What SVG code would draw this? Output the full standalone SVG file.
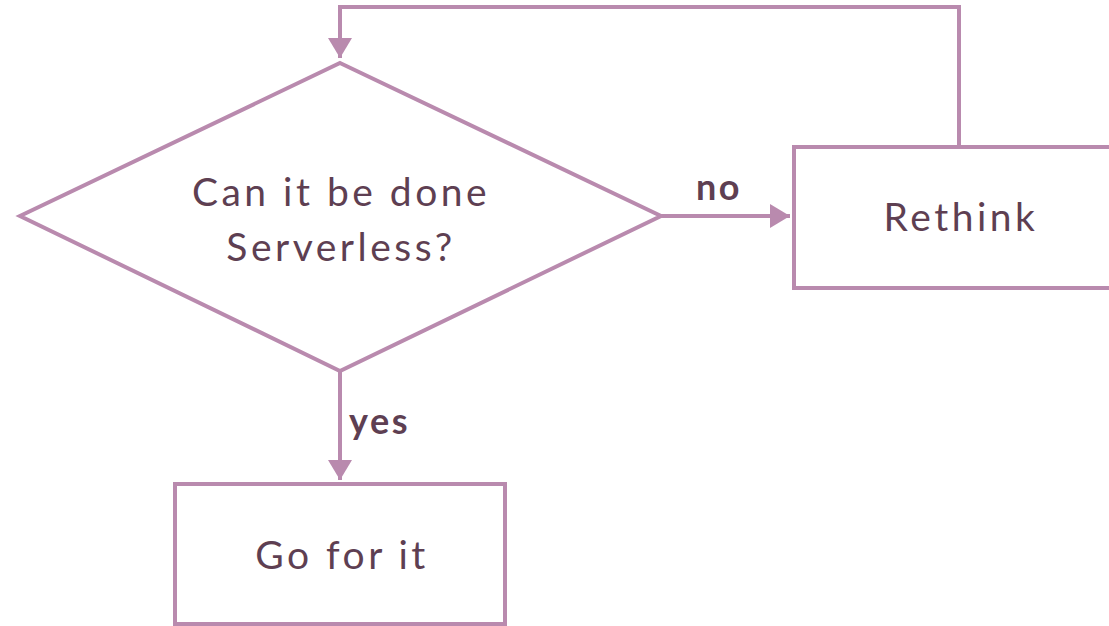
<svg xmlns="http://www.w3.org/2000/svg" width="1109" height="626" viewBox="0 0 1109 626">
<defs>
<style>
.s{fill:#fff;stroke:#b98aae;stroke-width:4}
.c{fill:none;stroke:#b98aae;stroke-width:4}
.t{fill:#5e3f52;font-family:Lato,"Noto Sans",sans-serif;font-size:39px;letter-spacing:3.5px;text-anchor:middle}
.l{fill:#5e3f52;font-family:Lato,"Noto Sans",sans-serif;font-size:36px;letter-spacing:2.5px;font-weight:bold}
</style>
<marker id="a" markerWidth="6" markerHeight="6" refX="5" refY="3" orient="auto" markerUnits="strokeWidth">
<path d="M0,0 L5,3 L0,6 Z" fill="#b98aae"/>
</marker>
</defs>
<rect width="1109" height="626" fill="#fff"/>
<g id="connectors">
<path class="c" d="M959,147 V7 H340 V58" marker-end="url(#a)"/>
<path class="c" d="M661,216 H790" marker-end="url(#a)"/>
<path class="c" d="M340,371 V480" marker-end="url(#a)"/>
<text class="l" x="719" y="200" text-anchor="middle">no</text>
<text class="l" x="349" y="434">yes</text>
</g>
<g id="decision">
<polygon class="s" points="340,63 661,216 340,371 20,216"/>
<text class="t" x="341" y="206">Can it be done</text>
<text class="t" x="341" y="261">Serverless?</text>
</g>
<g id="rethink">
<rect class="s" x="794" y="147" width="330" height="141"/>
<text class="t" x="961" y="231">Rethink</text>
</g>
<g id="go">
<rect class="s" x="175" y="484" width="330" height="140"/>
<text class="t" x="342" y="569">Go for it</text>
</g>
</svg>
